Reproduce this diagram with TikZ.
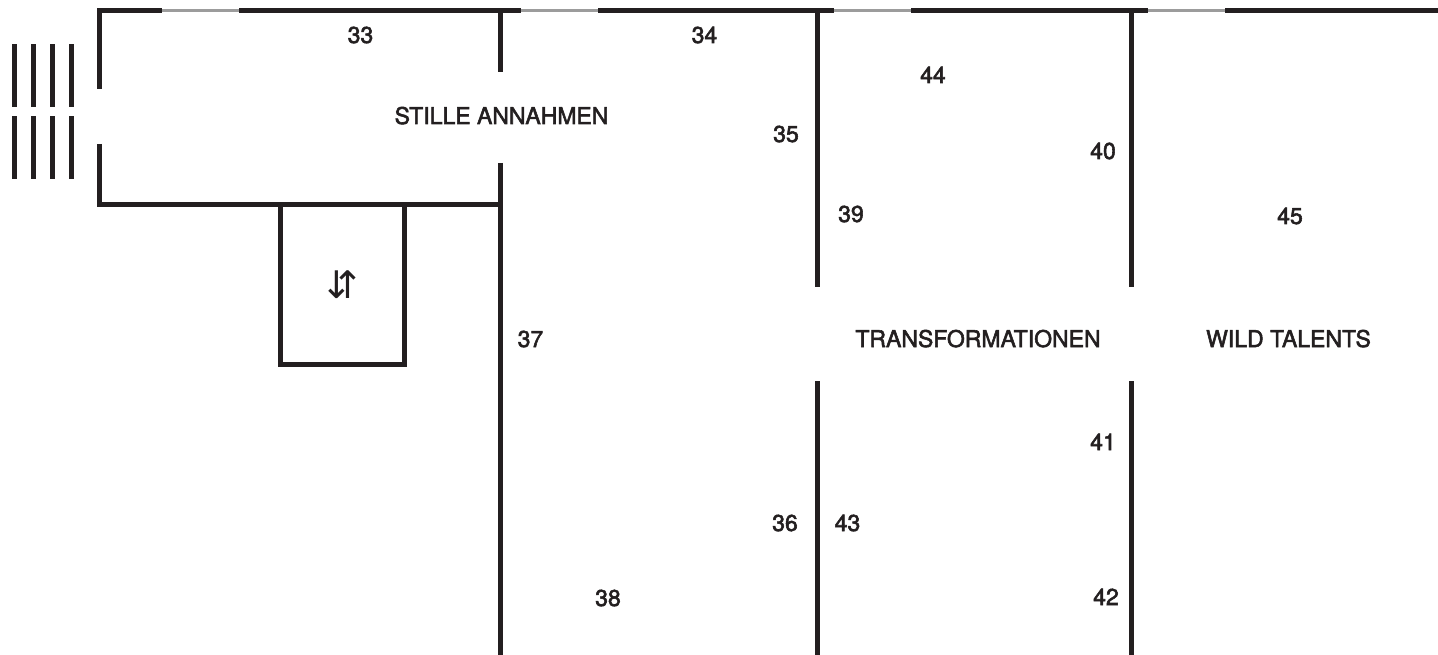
\documentclass[tikz,border=0pt]{standalone}
\usepackage{fontspec}
\setmainfont{TeX Gyre Heros}[FakeBold=2.4,BoldFont=TeX Gyre Heros]
\newfontfamily\symfont{DejaVu Sans}
\definecolor{ink}{HTML}{231F20}
\definecolor{glass}{HTML}{9C9C9C}
\begin{document}
\begin{tikzpicture}[x=1pt,y=-1pt,
  wall/.style={draw=ink,line width=5pt,line join=miter,line cap=butt},
  window/.style={draw=glass,line width=3pt},
  lbl/.style={anchor=base,inner sep=0pt,text=ink,font=\fontsize{23}{23}\selectfont\bfseries}]
\useasboundingbox (0,0) rectangle (1438,655);
% stairs
\foreach \x in {14.3,33.3,52.5,71.5}{
  \fill[ink] (\x-2.5,44) rectangle (\x+2.5,107);
  \fill[ink] (\x-2.5,116) rectangle (\x+2.5,179);
}
% top wall with windows
\draw[wall] (99.5,89) -- (99.5,11) -- (162,11);
\draw[window] (162,11) -- (239,11);
\draw[wall] (239,11) -- (521,11);
\draw[window] (521,11) -- (598,11);
\draw[wall] (598,11) -- (834,11);
\draw[window] (834,11) -- (911,11);
\draw[wall] (911,11) -- (1148,11);
\draw[window] (1148,11) -- (1225,11);
\draw[wall] (1225,11) -- (1438,11);
% left room
\draw[wall] (99.5,144) -- (99.5,204.5) -- (500.5,204.5);
\draw[wall] (500.5,11) -- (500.5,72);
\draw[wall] (500.5,163) -- (500.5,655);
% elevator
\draw[wall] (280.5,204.5) rectangle (404.5,364.5);
\node[anchor=center,inner sep=0pt,text=ink,font=\symfont\fontsize{38}{38}\selectfont] (lift) at (342,285) {⇵};
% inner walls
\draw[wall] (817.5,11) -- (817.5,287);
\draw[wall] (817.5,381) -- (817.5,655);
\draw[wall] (1131.5,11) -- (1131.5,287);
\draw[wall] (1131.5,381) -- (1131.5,655);
% room numbers
\node[lbl] (n33) at (360.5,43) {33};
\node[lbl] (n34) at (704.5,43) {34};
\node[lbl] (n44) at (933,83) {44};
\node[lbl] (n35) at (786,142) {35};
\node[lbl] (n40) at (1103,159) {40};
\node[lbl] (n39) at (851,222) {39};
\node[lbl] (n45) at (1290,224) {45};
\node[lbl] (n37) at (530.5,347) {37};
\node[lbl] (n41) at (1103,450) {41};
\node[lbl] (n36) at (785,531) {36};
\node[lbl] (n43) at (847.5,531) {43};
\node[lbl] (n38) at (608,606) {38};
\node[lbl] (n42) at (1106,605) {42};
% section titles
\node[lbl] (stille) at (501.5,124) {STILLE ANNAHMEN};
\node[lbl] (trans) at (978,347) {TRANSFORMATIONEN};
\node[lbl] (wild) at (1288.5,347) {WILD TALENTS};
\end{tikzpicture}
\end{document}
